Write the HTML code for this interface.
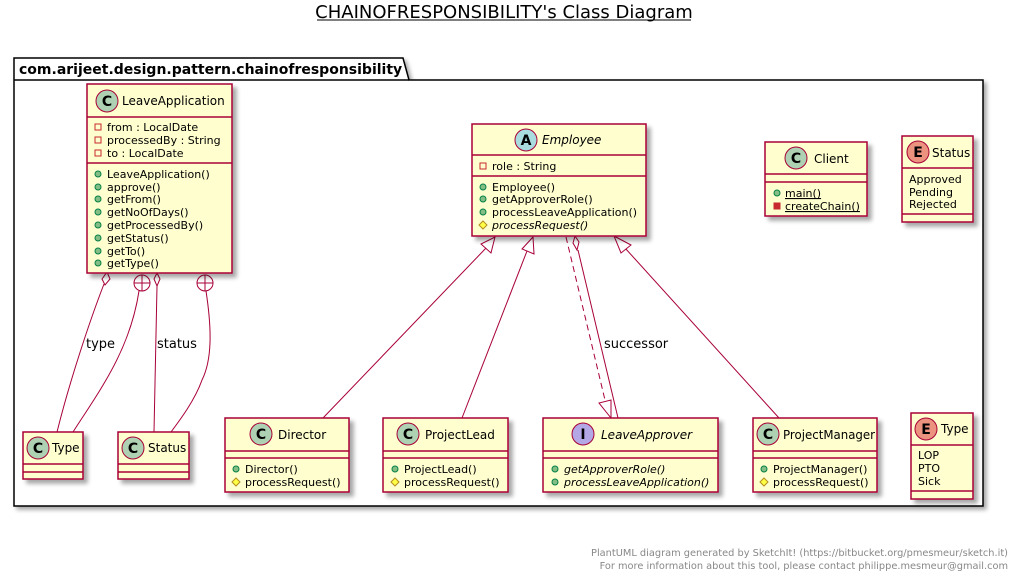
<!DOCTYPE html>
<html><head><meta charset="utf-8"><style>
html,body{margin:0;padding:0;background:#fff;}
svg{display:block;font-family:"DejaVu Sans","Liberation Sans",sans-serif;}
.b{fill:#FEFECE;stroke:#A80036;stroke-width:1.5;filter:url(#sh);}
.l{stroke:#A80036;stroke-width:1.5;}
.e{stroke:#A80036;stroke-width:1;fill:none;}
.m{font-size:11px;fill:#000;}
.n{font-size:12px;fill:#000;}
.pub{fill:#84BE84;stroke:#038048;stroke-width:1;}
.pri{fill:none;stroke:#C82930;stroke-width:1;}
.prif{fill:#C82930;stroke:#C82930;stroke-width:1;}
.pro{fill:#FFFF44;stroke:#B38D22;stroke-width:1;}
.ic{stroke:#A80036;stroke-width:1;}
</style></head><body>
<svg width="1019" height="581" viewBox="0 0 1019 581" xmlns="http://www.w3.org/2000/svg">
<defs>
<filter id="sh" x="-10%" y="-10%" width="130%" height="130%"><feGaussianBlur in="SourceAlpha" stdDeviation="2"/><feOffset dx="4" dy="4"/><feComponentTransfer><feFuncA type="linear" slope="0.35"/></feComponentTransfer><feMerge><feMergeNode/><feMergeNode in="SourceGraphic"/></feMerge></filter>
<filter id="sh2" x="-5%" y="-5%" width="110%" height="110%"><feGaussianBlur in="SourceAlpha" stdDeviation="2"/><feOffset dx="3" dy="3"/><feComponentTransfer><feFuncA type="linear" slope="0.35"/></feComponentTransfer><feMerge><feMergeNode/><feMergeNode in="SourceGraphic"/></feMerge></filter>
</defs>

<text x="504" y="18" text-anchor="middle" font-size="18" fill="#000">CHAINOFRESPONSIBILITY's Class Diagram</text>
<line x1="317" y1="20" x2="691" y2="20" stroke="#000" stroke-width="1"/>

<g filter="url(#sh2)">
<path d="M14,58 H403 L409,80 H983 V506 H14 Z" fill="#fff" stroke="#000" stroke-width="1.5"/>
</g>
<line x1="14" y1="80" x2="409" y2="80" stroke="#000" stroke-width="1.5"/>
<text x="19" y="74" font-size="14" font-weight="bold">com.arijeet.design.pattern.chainofresponsibility</text>

<path class="e" d="M104,284 C90,320 70,380 57,432"/>
<polygon points="107,272 110,279 105,285 102,279" fill="#fff" stroke="#A80036"/>
<text x="86" y="348" font-size="13">type</text>
<path class="e" d="M139,291 C130,350 100,390 73,432"/>
<circle cx="142" cy="283" r="8" fill="#fff" stroke="#A80036"/>
<line x1="134" y1="283" x2="150" y2="283" stroke="#A80036"/><line x1="142" y1="275" x2="142" y2="291" stroke="#A80036"/>
<path class="e" d="M157,286 L154,432"/>
<polygon points="157,273 160,279 157,286 154,279" fill="#fff" stroke="#A80036"/>
<text x="157" y="348" font-size="13">status</text>
<path class="e" d="M206,291 C212,330 212,360 202,380 C195,400 180,420 171,432"/>
<circle cx="205" cy="283" r="8" fill="#fff" stroke="#A80036"/>
<line x1="197" y1="283" x2="213" y2="283" stroke="#A80036"/><line x1="205" y1="275" x2="205" y2="291" stroke="#A80036"/>

<line class="e" x1="323" y1="418" x2="487" y2="247"/>
<polygon points="495,237 491,253 481,244" fill="#fff" stroke="#A80036"/>
<line class="e" x1="462" y1="418" x2="527" y2="251"/>
<polygon points="533,237 534,254 522,249" fill="#fff" stroke="#A80036"/>
<line class="e" x1="779" y1="418" x2="625" y2="248"/>
<polygon points="614,236 631,245 621,253" fill="#fff" stroke="#A80036"/>
<line class="e" x1="566" y1="237" x2="605" y2="400" stroke-dasharray="6,4"/>
<polygon points="611,418 599,403 611,400" fill="#fff" stroke="#A80036"/>
<line class="e" x1="578" y1="250" x2="618" y2="418"/>
<polygon points="575,236 579,242 577,250 573,243" fill="#fff" stroke="#A80036"/>
<text x="604" y="348" font-size="13">successor</text>

<rect class="b" x="87" y="84" width="145" height="189"/>
<line class="l" x1="87" y1="117" x2="232" y2="117"/>
<line class="l" x1="87" y1="163" x2="232" y2="163"/>
<circle cx="107" cy="101" r="11" fill="#ADD1B2" class="ic"/>
<text x="107" y="106" text-anchor="middle" font-size="14" font-weight="bold">C</text>
<text x="122" y="105" class="n">LeaveApplication</text>
<rect class="pri" x="95" y="124" width="6" height="6"/><text x="107" y="131" class="m">from : LocalDate</text>
<rect class="pri" x="95" y="137" width="6" height="6"/><text x="107" y="144" class="m">processedBy : String</text>
<rect class="pri" x="95" y="150" width="6" height="6"/><text x="107" y="157" class="m">to : LocalDate</text>
<g class="m">
<circle class="pub" cx="98" cy="174" r="3"/><text x="107" y="178">LeaveApplication()</text>
<circle class="pub" cx="98" cy="187" r="3"/><text x="107" y="191">approve()</text>
<circle class="pub" cx="98" cy="199" r="3"/><text x="107" y="203">getFrom()</text>
<circle class="pub" cx="98" cy="212" r="3"/><text x="107" y="216">getNoOfDays()</text>
<circle class="pub" cx="98" cy="225" r="3"/><text x="107" y="229">getProcessedBy()</text>
<circle class="pub" cx="98" cy="238" r="3"/><text x="107" y="242">getStatus()</text>
<circle class="pub" cx="98" cy="251" r="3"/><text x="107" y="255">getTo()</text>
<circle class="pub" cx="98" cy="263" r="3"/><text x="107" y="267">getType()</text>
</g>

<rect class="b" x="472" y="124" width="174" height="112"/>
<line class="l" x1="472" y1="155" x2="646" y2="155"/>
<line class="l" x1="472" y1="176" x2="646" y2="176"/>
<circle cx="526" cy="140" r="11" fill="#A9DCDF" class="ic"/>
<text x="526" y="145" text-anchor="middle" font-size="14" font-weight="bold">A</text>
<text x="542" y="144" class="n" font-style="italic">Employee</text>
<rect class="pri" x="480" y="163" width="6" height="6"/><text x="492" y="170" class="m">role : String</text>
<g class="m">
<circle class="pub" cx="483" cy="187" r="3"/><text x="492" y="191">Employee()</text>
<circle class="pub" cx="483" cy="199" r="3"/><text x="492" y="203">getApproverRole()</text>
<circle class="pub" cx="483" cy="212" r="3"/><text x="492" y="216">processLeaveApplication()</text>
<polygon class="pro" points="483,221 487,225 483,229 479,225"/><text x="492" y="229" font-style="italic">processRequest()</text>
</g>

<rect class="b" x="765" y="142" width="102" height="74"/>
<line class="l" x1="765" y1="174" x2="867" y2="174"/>
<line class="l" x1="765" y1="182" x2="867" y2="182"/>
<circle cx="796" cy="158" r="11" fill="#ADD1B2" class="ic"/>
<text x="796" y="163" text-anchor="middle" font-size="14" font-weight="bold">C</text>
<text x="814" y="163" class="n">Client</text>
<g class="m">
<circle class="pub" cx="777" cy="193" r="3"/><text x="785" y="197" text-decoration="underline">main()</text>
<rect class="prif" x="774" y="203" width="6" height="6"/><text x="785" y="210" text-decoration="underline">createChain()</text>
</g>

<rect class="b" x="902" y="136" width="71" height="86"/>
<line class="l" x1="902" y1="168" x2="973" y2="168"/>
<line class="l" x1="902" y1="214" x2="973" y2="214"/>
<circle cx="918" cy="152" r="11" fill="#EB937F" class="ic"/>
<text x="918" y="157" text-anchor="middle" font-size="14" font-weight="bold">E</text>
<text x="932" y="157" class="n">Status</text>
<g class="m"><text x="909" y="183">Approved</text><text x="909" y="196">Pending</text><text x="909" y="208">Rejected</text></g>

<rect class="b" x="23" y="432" width="60" height="47"/>
<line class="l" x1="23" y1="464" x2="83" y2="464"/>
<line class="l" x1="23" y1="472" x2="83" y2="472"/>
<circle cx="38" cy="448" r="11" fill="#ADD1B2" class="ic"/>
<text x="38" y="453" text-anchor="middle" font-size="14" font-weight="bold">C</text>
<text x="52" y="452" class="n">Type</text>

<rect class="b" x="118" y="432" width="71" height="47"/>
<line class="l" x1="118" y1="464" x2="189" y2="464"/>
<line class="l" x1="118" y1="472" x2="189" y2="472"/>
<circle cx="133" cy="448" r="11" fill="#ADD1B2" class="ic"/>
<text x="133" y="453" text-anchor="middle" font-size="14" font-weight="bold">C</text>
<text x="148" y="452" class="n">Status</text>

<rect class="b" x="225" y="418" width="124" height="74"/>
<line class="l" x1="225" y1="451" x2="349" y2="451"/>
<line class="l" x1="225" y1="458" x2="349" y2="458"/>
<circle cx="261" cy="434" r="11" fill="#ADD1B2" class="ic"/>
<text x="261" y="439" text-anchor="middle" font-size="14" font-weight="bold">C</text>
<text x="278" y="439" class="n">Director</text>
<g class="m">
<circle class="pub" cx="236" cy="469" r="3"/><text x="245" y="473">Director()</text>
<polygon class="pro" points="236,478 240,482 236,486 232,482"/><text x="245" y="486">processRequest()</text>
</g>

<rect class="b" x="383" y="418" width="125" height="74"/>
<line class="l" x1="383" y1="451" x2="508" y2="451"/>
<line class="l" x1="383" y1="458" x2="508" y2="458"/>
<circle cx="408" cy="434" r="11" fill="#ADD1B2" class="ic"/>
<text x="408" y="439" text-anchor="middle" font-size="14" font-weight="bold">C</text>
<text x="425" y="439" class="n">ProjectLead</text>
<g class="m">
<circle class="pub" cx="395" cy="469" r="3"/><text x="404" y="473">ProjectLead()</text>
<polygon class="pro" points="395,478 399,482 395,486 391,482"/><text x="404" y="486">processRequest()</text>
</g>

<rect class="b" x="543" y="418" width="175" height="74"/>
<line class="l" x1="543" y1="451" x2="718" y2="451"/>
<line class="l" x1="543" y1="458" x2="718" y2="458"/>
<circle cx="583" cy="434" r="11" fill="#B4A7E5" class="ic"/>
<text x="583" y="439" text-anchor="middle" font-size="14" font-weight="bold">I</text>
<text x="601" y="439" class="n" font-style="italic">LeaveApprover</text>
<g class="m" font-style="italic">
<circle class="pub" cx="555" cy="469" r="3"/><text x="564" y="473">getApproverRole()</text>
<circle class="pub" cx="555" cy="482" r="3"/><text x="564" y="486">processLeaveApplication()</text>
</g>

<rect class="b" x="753" y="418" width="124" height="74"/>
<line class="l" x1="753" y1="451" x2="877" y2="451"/>
<line class="l" x1="753" y1="458" x2="877" y2="458"/>
<circle cx="768" cy="434" r="11" fill="#ADD1B2" class="ic"/>
<text x="768" y="439" text-anchor="middle" font-size="14" font-weight="bold">C</text>
<text x="783" y="439" class="n" font-size="11.5" textLength="92" lengthAdjust="spacingAndGlyphs">ProjectManager</text>
<g class="m">
<circle class="pub" cx="764" cy="469" r="3"/><text x="773" y="473">ProjectManager()</text>
<polygon class="pro" points="764,478 768,482 764,486 760,482"/><text x="773" y="486">processRequest()</text>
</g>

<rect class="b" x="911" y="413" width="62" height="86"/>
<line class="l" x1="911" y1="445" x2="973" y2="445"/>
<line class="l" x1="911" y1="491" x2="973" y2="491"/>
<circle cx="926" cy="429" r="11" fill="#EB937F" class="ic"/>
<text x="926" y="434" text-anchor="middle" font-size="14" font-weight="bold">E</text>
<text x="941" y="433" class="n">Type</text>
<g class="m"><text x="918" y="459">LOP</text><text x="918" y="472">PTO</text><text x="918" y="485">Sick</text></g>

<text x="1008" y="556" text-anchor="end" font-size="9.8" fill="#888">PlantUML diagram generated by SketchIt! (https://bitbucket.org/pmesmeur/sketch.it)</text>
<text x="1008" y="569" text-anchor="end" font-size="9.8" fill="#888">For more information about this tool, please contact philippe.mesmeur@gmail.com</text>
</svg>
</body></html>
